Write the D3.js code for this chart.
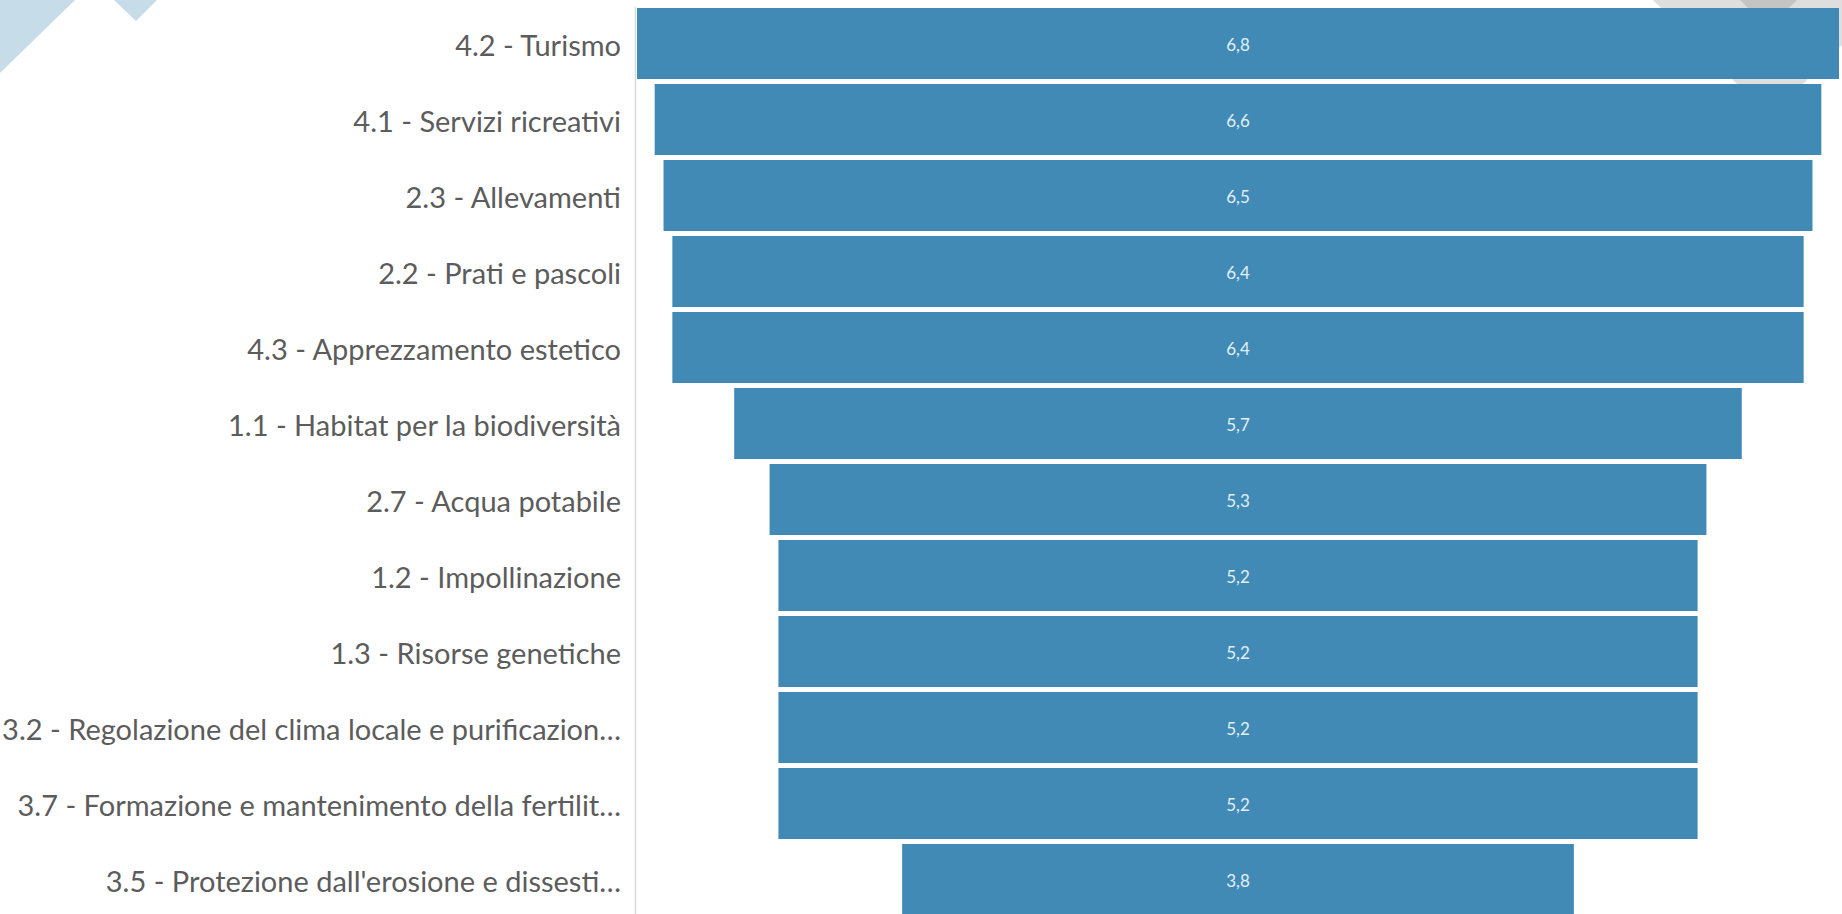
<!DOCTYPE html>
<html>
<head>
<meta charset="utf-8">
<script src="https://cdn.jsdelivr.net/npm/d3@7"></script>
<style>
  html, body { margin: 0; padding: 0; background: #ffffff; overflow: hidden; }
  svg { display: block; }
</style>
</head>
<body>
<svg id="chart" width="1842" height="914"></svg>
<script>
// ---- data ----
const categories = [
  "4.2 - Turismo",
  "4.1 - Servizi ricreativi",
  "2.3 - Allevamenti",
  "2.2 - Prati e pascoli",
  "4.3 - Apprezzamento estetico",
  "1.1 - Habitat per la biodiversità",
  "2.7 - Acqua potabile",
  "1.2 - Impollinazione",
  "1.3 - Risorse genetiche",
  "3.2 - Regolazione del clima locale e purificazion…",
  "3.7 - Formazione e mantenimento della fertilit…",
  "3.5 - Protezione dall'erosione e dissesti…"
];
const values = [6.8, 6.6, 6.5, 6.4, 6.4, 5.7, 5.3, 5.2, 5.2, 5.2, 5.2, 3.8];
const valueLabels = ["6,8", "6,6", "6,5", "6,4", "6,4", "5,7", "5,3", "5,2", "5,2", "5,2", "5,2", "3,8"];

// ---- layout ----
const W = 1842, H = 914;
const centerX = 1238;
const maxWidth = 1202;
const svg = d3.select("#chart");

// decorative background shapes
const deco = svg.append("g");
deco.append("polygon").attr("points", "0,0 75,0 0,73").attr("fill", "#c6dce9");
deco.append("polygon").attr("points", "114,0 157,0 136,21").attr("fill", "#c6dce9");
deco.append("polygon").attr("points", "1653,0 1887,0 1770,117").attr("fill", "#dedede");
deco.append("polygon").attr("points", "1740,0 1797,0 1768.5,28.5").attr("fill", "#c4c4c4");

const y = d3.scaleBand()
  .domain(categories)
  .range([8, 8 + 76 * 12 - 5])
  .paddingInner(5 / 76)
  .paddingOuter(0);

const w = d3.scaleLinear().domain([0, d3.max(values)]).range([0, maxWidth]);

// axis line
svg.append("line")
  .attr("x1", 635.5).attr("x2", 635.5)
  .attr("y1", 7).attr("y2", H)
  .attr("stroke", "#d9d9d9").attr("stroke-width", 1.5);

const data = categories.map((c, i) => ({ c, v: values[i], l: valueLabels[i] }));

svg.append("g").selectAll("rect").data(data).join("rect")
  .attr("x", d => centerX - w(d.v) / 2)
  .attr("y", d => y(d.c))
  .attr("width", d => w(d.v))
  .attr("height", y.bandwidth())
  .attr("fill", "#418ab5");

svg.append("g").selectAll("text").data(data).join("text")
  .attr("x", centerX)
  .attr("y", d => y(d.c) + y.bandwidth() / 2 + 2)
  .attr("dy", "0.35em")
  .attr("text-anchor", "middle")
  .attr("font-family", "Lato, 'Open Sans', sans-serif")
  .attr("font-size", 17)
  .attr("fill", "#e3eff8")
  .text(d => d.l);

svg.append("g").selectAll("text").data(data).join("text")
  .attr("x", 621)
  .attr("y", d => y(d.c) + y.bandwidth() / 2 + 2)
  .attr("dy", "0.35em")
  .attr("text-anchor", "end")
  .attr("font-family", "Lato, 'Open Sans', sans-serif")
  .attr("font-size", 29)
  .attr("fill", "#5c5c5c")
  .text(d => d.c);
</script>
</body>
</html>
